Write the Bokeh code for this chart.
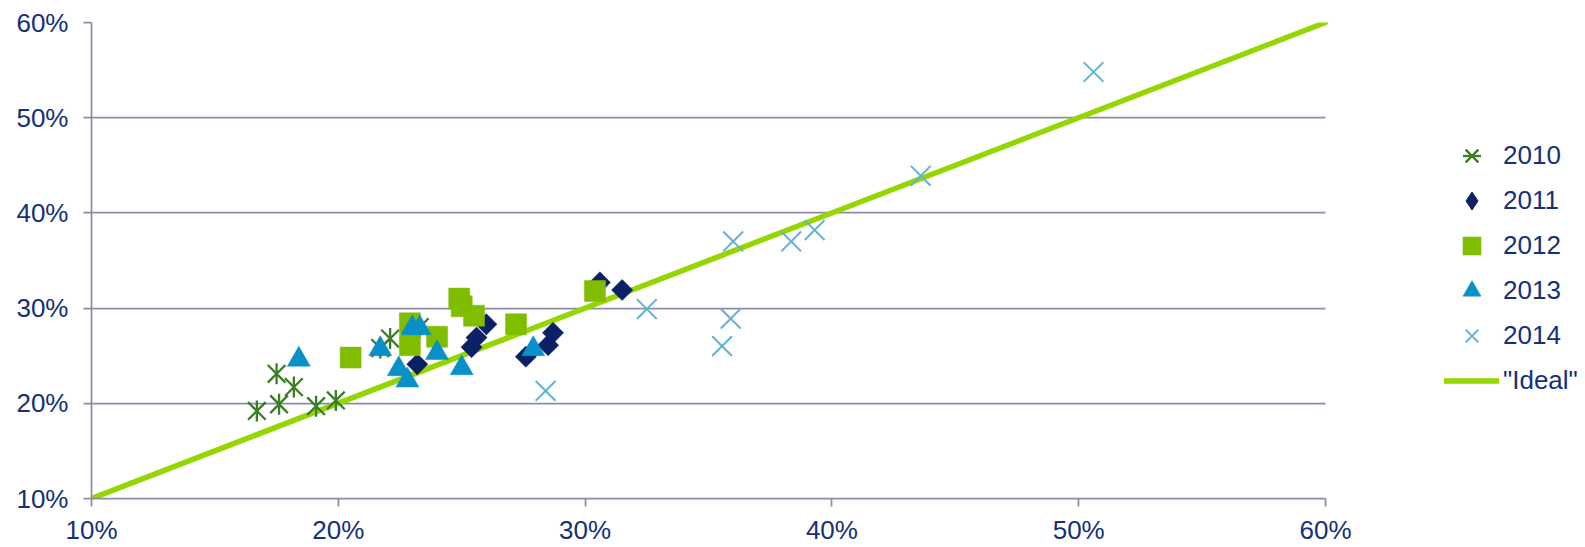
from math import pi
from bokeh.plotting import figure
from bokeh.models import Range1d, FixedTicker, PrintfTickFormatter, Legend, LegendItem
from bokeh.embed import file_html
from bokeh.resources import INLINE

# ---- data (percent) ----
x2010 = [16.7, 17.5, 17.6, 18.2, 19.1, 19.9, 21.7, 22.1, 23.3]
y2010 = [19.2, 23.1, 19.9, 21.7, 19.7, 20.3, 25.8, 26.8, 28.0]

x2011 = [23.2, 25.4, 25.6, 26.0, 27.6, 28.5, 28.7, 30.6, 31.5]
y2011 = [24.1, 25.9, 26.9, 28.3, 24.9, 26.1, 27.4, 32.7, 31.9]

x2012 = [20.5, 22.9, 22.9, 24.0, 24.9, 25.0, 25.5, 27.2, 30.4]
y2012 = [24.8, 28.4, 26.1, 27.0, 31.0, 30.2, 29.2, 28.3, 31.8]

x2013 = [18.4, 21.7, 23.0, 23.3, 22.45, 22.8, 24.0, 25.0, 27.9]
y2013 = [24.6, 25.7, 27.9, 27.9, 23.6, 22.4, 25.3, 23.7, 25.7]

x2014 = [28.4, 32.5, 35.55, 35.9, 36.0, 38.35, 39.3, 43.6, 50.6]
y2014 = [21.3, 29.9, 26.0, 28.9, 37.0, 37.0, 38.2, 43.9, 54.8]

ideal_x = [10, 60]
ideal_y = [10, 60]

ticks = [10, 20, 30, 40, 50, 60]

# ---- layout / style ----
W, H = 1585, 547
LEFT, RIGHT, TOP, BOTTOM = 91, 5, 22, 45
AXIS_END_PX = 1325            # pixel where 60% sits
frame_w = W - LEFT - RIGHT
x_end = 10 + 50 * frame_w / (AXIS_END_PX - LEFT)   # extra room on the right for the legend

TEXT = "#14307A"
GRID = "#8C8CA8"
FONT = "Liberation Sans"
FS = "26px"

p = figure(width=W, height=H, output_backend="svg", toolbar_location=None,
           x_range=Range1d(10, x_end), y_range=Range1d(10, 60),
           min_border_left=LEFT, min_border_right=RIGHT, min_border_top=TOP, min_border_bottom=BOTTOM)
p.outline_line_color = None
p.background_fill_color = "white"
p.border_fill_color = "white"

for ax in (p.xaxis[0], p.yaxis[0]):
    ax.ticker = FixedTicker(ticks=ticks)
    ax.formatter = PrintfTickFormatter(format="%d%%")
    ax.bounds = (10, 60)
    ax.axis_line_color = GRID
    ax.axis_line_width = 1.75
    ax.major_tick_line_color = GRID
    ax.major_tick_line_width = 1.75
    ax.major_tick_out = 8
    ax.major_tick_in = 0
    ax.minor_tick_line_color = None
    ax.major_label_text_font = FONT
    ax.major_label_text_font_size = FS
    ax.major_label_text_color = TEXT
p.yaxis[0].major_label_standoff = 15
p.xaxis[0].major_label_standoff = 8

p.xgrid.grid_line_color = None
p.ygrid.ticker = FixedTicker(ticks=ticks)
try:
    p.ygrid.cross_bounds = (10, 60)
    p.ygrid.grid_line_color = GRID
    p.ygrid.grid_line_width = 1.75
except Exception:
    p.ygrid.grid_line_color = None
    p.segment(x0=[10] * len(ticks), x1=[60] * len(ticks), y0=ticks, y1=ticks,
              line_color=GRID, line_width=1.75)

# ideal line (behind markers)
r_ideal = p.line(ideal_x, ideal_y, line_color="#95D600", line_width=5.5, line_cap="round")

# 2010: star (x + vertical dash)
c10 = "#3A7D24"
r10a = p.scatter(x2010, y2010, marker="x", size=25, line_color=c10, line_width=2.3)
r10b = p.scatter(x2010, y2010, marker="dash", size=21, angle=pi / 2, line_color=c10, line_width=2.3)

# 2011: diamond (rotated square); a narrower diamond underneath serves as the legend glyph
c11 = "#0B2165"
r11_leg = p.scatter(x2011[:1], y2011[:1], marker="diamond", size=20, fill_color=c11, line_color=c11)
r11 = p.scatter(x2011, y2011, marker="square", size=15, angle=pi / 4,
                fill_color=c11, line_color=c11, line_width=0.5)

# 2012: square
r12 = p.scatter(x2012, y2012, marker="square", size=21,
                fill_color="#80BC00", line_color="#80BC00", line_width=0.5)

# 2013: triangle
r13 = p.scatter(x2013, y2013, marker="triangle", size=23,
                fill_color="#0A90C8", line_color="#0A90C8", line_width=0.5)

# 2014: x
r14 = p.scatter(x2014, y2014, marker="x", size=28, line_color="#60B3D3", line_width=2)

legend = Legend(items=[
    LegendItem(label="2010", renderers=[r10a, r10b]),
    LegendItem(label="2011", renderers=[r11_leg]),
    LegendItem(label="2012", renderers=[r12]),
    LegendItem(label="2013", renderers=[r13]),
    LegendItem(label="2014", renderers=[r14]),
    LegendItem(label='"Ideal"', renderers=[r_ideal]),
])
legend.location = (1444 - LEFT, 95)
legend.padding = 0
legend.margin = 0
legend.spacing = 0
legend.glyph_width = 55
legend.glyph_height = 45
legend.label_height = 45
legend.label_standoff = 4
legend.label_text_font = FONT
legend.label_text_font_size = FS
legend.label_text_color = TEXT
legend.border_line_color = None
legend.background_fill_alpha = 0
p.add_layout(legend, "center")

open("out.html", "w").write(file_html(p, INLINE))
